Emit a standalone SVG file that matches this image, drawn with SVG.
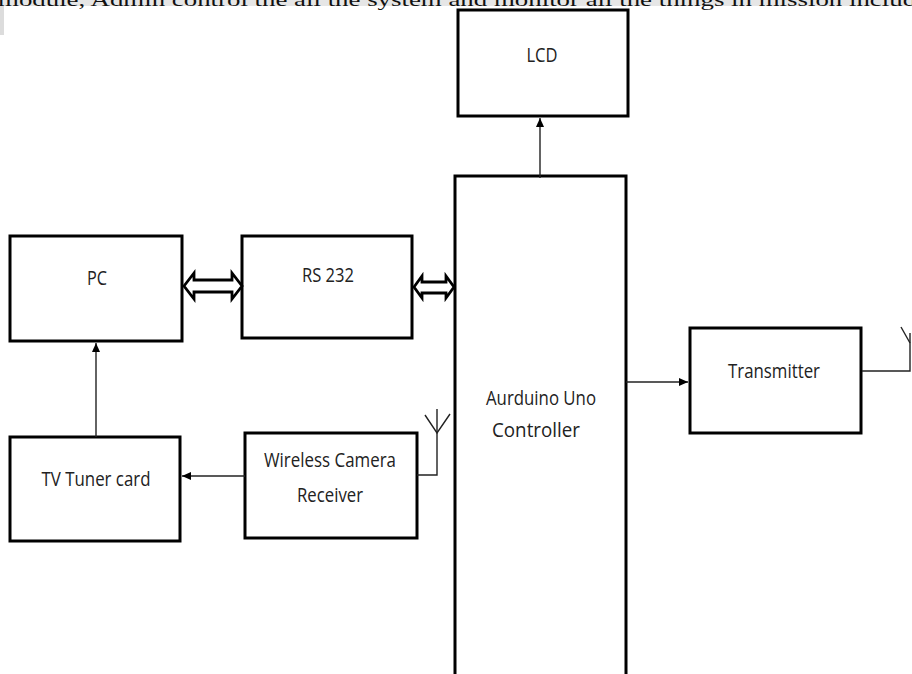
<svg xmlns="http://www.w3.org/2000/svg" width="912" height="674" viewBox="0 0 912 674">
<style>
.box{fill:#fff;stroke:#000;stroke-width:3}
.lbl{font-family:"Open Sans","Liberation Sans",sans-serif;font-size:20px;fill:#222;text-anchor:middle}
.ln{fill:none;stroke:#222;stroke-width:1.4}
.dbl{fill:#fff;stroke:#000;stroke-width:2.8;stroke-linejoin:miter}
.top{font-family:"Liberation Serif",serif;font-size:19px;fill:#111}
</style>
<defs>
<marker id="ah" markerWidth="10" markerHeight="10" refX="9" refY="5" orient="auto" markerUnits="userSpaceOnUse">
<path d="M0,1 L9,5 L0,9 z" fill="#000"/>
</marker>
</defs>
<rect width="912" height="674" fill="#fff"/>
<rect x="0" y="0" width="912" height="6" fill="#e6e6e6"/>
<rect x="0" y="5" width="4" height="30" fill="#dcdcdc"/>
<text class="top" x="-2" y="6" textLength="930" lengthAdjust="spacingAndGlyphs">module, Admin control the all the system and monitor all the things in mission include</text>

<g id="lcd"><rect class="box" x="458" y="10" width="170" height="106"/><text class="lbl" x="542" y="62" textLength="31" lengthAdjust="spacingAndGlyphs">LCD</text></g>
<g id="controller"><rect class="box" x="455" y="176" width="171" height="510"/><text class="lbl" x="541" y="405" textLength="110" lengthAdjust="spacingAndGlyphs">Aurduino Uno</text><text class="lbl" x="536" y="437" textLength="88" lengthAdjust="spacingAndGlyphs">Controller</text></g>
<g id="pc"><rect class="box" x="10" y="236" width="172" height="105"/><text class="lbl" x="97" y="285" textLength="20" lengthAdjust="spacingAndGlyphs">PC</text></g>
<g id="rs232"><rect class="box" x="242" y="236" width="170" height="102"/><text class="lbl" x="328" y="282" textLength="52" lengthAdjust="spacingAndGlyphs">RS 232</text></g>
<g id="tvtuner"><rect class="box" x="10" y="437" width="170" height="104"/><text class="lbl" x="96" y="486" textLength="109" lengthAdjust="spacingAndGlyphs">TV Tuner card</text></g>
<g id="wcr"><rect class="box" x="245" y="433" width="172" height="105"/><text class="lbl" x="330" y="467" textLength="132" lengthAdjust="spacingAndGlyphs">Wireless Camera</text><text class="lbl" x="330" y="502" textLength="66" lengthAdjust="spacingAndGlyphs">Receiver</text></g>
<g id="transmitter"><rect class="box" x="690" y="328" width="171" height="105"/><text class="lbl" x="774" y="378" textLength="92" lengthAdjust="spacingAndGlyphs">Transmitter</text></g>

<g id="connectors">
<line class="ln" x1="540" y1="178" x2="540" y2="118" marker-end="url(#ah)"/>
<line class="ln" x1="96" y1="437" x2="96" y2="343" marker-end="url(#ah)"/>
<line class="ln" x1="245" y1="476" x2="182" y2="476" marker-end="url(#ah)"/>
<line class="ln" x1="626" y1="382" x2="688" y2="382" marker-end="url(#ah)"/>
<polygon class="dbl" points="184,286 194,273 194,280 232,280 232,273 242,286 232,299 232,292 194,292 194,299"/>
<polygon class="dbl" points="414,287 422,276 422,282 446,282 446,276 454,287 446,298 446,293 422,293 422,298"/>
<polyline class="ln" points="417,475 437,475 437,409"/>
<polyline class="ln" points="425,415 437,433 450,414"/>
<polyline class="ln" points="862,371 910,371 910,333"/>
<line class="ln" x1="901" y1="327" x2="910" y2="343"/>
</g>
</svg>
